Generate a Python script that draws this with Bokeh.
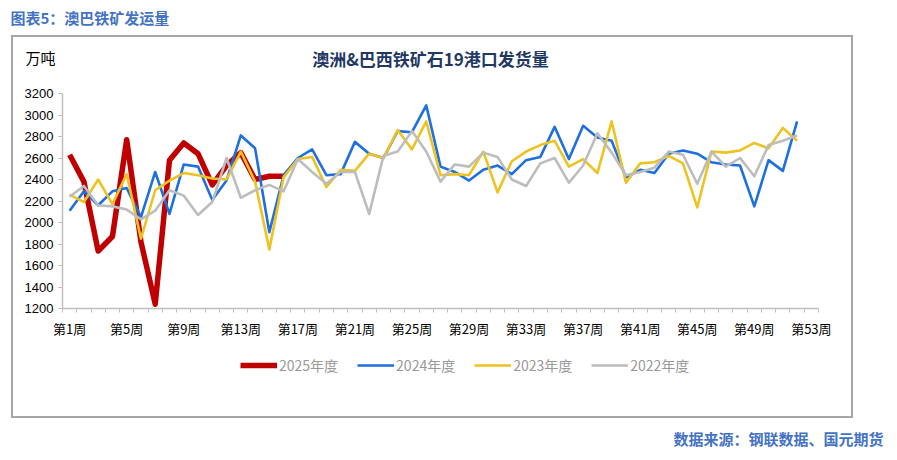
from bokeh.plotting import figure
from bokeh.models import (FixedTicker, Label, Legend, LegendItem, Range1d,
                          ColumnDataSource)
from bokeh.embed import file_html
from bokeh.resources import INLINE

# ---------------- data ----------------
weeks = list(range(1, 54))
tick_weeks = [1, 5, 9, 13, 17, 21, 25, 29, 33, 37, 41, 45, 49, 53]
tick_labels = {w: f"第{w}周" for w in tick_weeks}

y2025 = [2630, 2380, 1735, 1870, 2770, 1820, 1240, 2580, 2740, 2640, 2350, 2530,
         2650, 2400, 2430, 2430]
y2024 = [2110, 2290, 2160, 2290, 2320, 2050, 2470, 2080, 2540, 2520, 2210, 2390,
         2810, 2690, 1910, 2440, 2600, 2680, 2440, 2450, 2750, 2640, 2600, 2850,
         2840, 3090, 2520, 2470, 2390, 2490, 2530, 2450, 2580, 2610, 2890, 2590,
         2900, 2790, 2760, 2420, 2490, 2460, 2640, 2670, 2640, 2560, 2540, 2530,
         2150, 2580, 2480, 2940]
y2023 = [2260, 2190, 2400, 2170, 2450, 1850, 2300, 2390, 2460, 2440, 2410, 2400,
         2660, 2380, 1750, 2420, 2590, 2610, 2330, 2490, 2480, 2640, 2600, 2860,
         2680, 2940, 2440, 2450, 2440, 2660, 2280, 2570, 2660, 2720, 2760, 2520,
         2590, 2460, 2940, 2370, 2550, 2560, 2620, 2550, 2140, 2660, 2650, 2670,
         2740, 2690, 2880, 2760]
y2022 = [2240, 2340, 2160, 2150, 2120, 2030, 2110, 2300, 2250, 2070, 2190, 2600,
         2230, 2300, 2350, 2290, 2590, 2470, 2360, 2470, 2470, 2080, 2620, 2660,
         2850, 2660, 2380, 2540, 2520, 2650, 2610, 2400, 2340, 2550, 2600, 2370,
         2530, 2830, 2650, 2440, 2470, 2510, 2660, 2630, 2360, 2660, 2520, 2600,
         2430, 2720, 2760, 2810]

series_names = ["2025年度", "2024年度", "2023年度", "2022年度"]
series_values = [y2025, y2024, y2023, y2022]
y_ticks = list(range(1200, 3201, 200))
x_lo, x_hi = 0.5, 53.5
y_lo, y_hi = 1200, 3200

colors = ["#C00000", "#1E6FE0", "#EEC221", "#BDBDBD"]
widths = [5.5, 2.6, 2.6, 2.6]

CJK = "Noto Sans CJK SC"
BOX = "#A6A6A6"

# ---------------- geometry (pixels on the page) ----------------
W, H = 896, 459
PL, PR, PT, PB = 62, 818, 93, 308          # plot area inside the grey box
ppx = (PR - PL) / (x_hi - x_lo)
ppy = (PB - PT) / (y_hi - y_lo)
x_range = Range1d(x_lo - PL / ppx, x_hi + (W - PR) / ppx)
y_range = Range1d(y_lo - (H - PB) / ppy, y_hi + PT / ppy)

# grey frame round the chart (drawn by CSS behind the transparent canvas)
box_css = ", ".join([
    f"linear-gradient({BOX},{BOX}) 11px 35px / 842px 2px no-repeat",
    f"linear-gradient({BOX},{BOX}) 11px 416px / 842px 2px no-repeat",
    f"linear-gradient({BOX},{BOX}) 11px 35px / 2px 383px no-repeat",
    f"linear-gradient({BOX},{BOX}) 851px 35px / 2px 383px no-repeat",
    "#ffffff",
])

p = figure(width=W, height=H, output_backend="svg", toolbar_location=None,
           x_range=x_range, y_range=y_range, min_border=0,
           min_border_left=0, min_border_right=0, min_border_top=0, min_border_bottom=0,
           background_fill_alpha=0, border_fill_alpha=0,
           styles={"background": box_css})
p.outline_line_color = None
p.xgrid.visible = False
p.ygrid.visible = False

# x axis, pinned at y = 1200 and bounded to the plot area
xa = p.xaxis[0]
xa.fixed_location = y_lo
xa.bounds = (x_lo, x_hi)
xa.ticker = FixedTicker(ticks=tick_weeks, minor_ticks=[w + 0.5 for w in range(0, 54)])
xa.major_label_overrides = tick_labels
xa.major_tick_line_color = None
xa.major_tick_out = 0
xa.major_tick_in = 0
xa.minor_tick_in = 0
xa.minor_tick_out = 4
xa.minor_tick_line_color = "#BFBFBF"
xa.axis_line_color = "#BFBFBF"
xa.axis_line_width = 1.5
xa.major_label_text_font = CJK
xa.major_label_text_font_size = "13px"
xa.major_label_text_color = "#000000"
xa.major_label_standoff = 6

# y axis, pinned at x = 0.5
ya = p.yaxis[0]
ya.fixed_location = x_lo
ya.bounds = (y_lo, y_hi)
ya.ticker = FixedTicker(ticks=y_ticks)
ya.minor_tick_line_color = None
ya.major_tick_in = 0
ya.major_tick_out = 4
ya.major_tick_line_color = "#BFBFBF"
ya.axis_line_color = "#BFBFBF"
ya.axis_line_width = 1.5
ya.major_label_text_font = "Liberation Sans"
ya.major_label_text_font_size = "13px"
ya.major_label_text_color = "#000000"
ya.major_label_standoff = 5

# lines (2025 drawn first, as in the source)
renderers = []
for name, vals, c, w in zip(series_names, series_values, colors, widths):
    src = ColumnDataSource(dict(x=weeks[:len(vals)], y=vals))
    r = p.line("x", "y", source=src, line_color=c, line_width=w, line_join="round")
    renderers.append(r)

legend = Legend(items=[LegendItem(label=n, renderers=[r]) for n, r in zip(series_names, renderers)],
                orientation="horizontal", location=(240, H - 375))
legend.label_text_font = CJK
legend.label_text_font_size = "14px"
legend.label_text_color = "#999999"
legend.glyph_width = 37
legend.glyph_height = 20
legend.label_height = 20
legend.label_standoff = 2
legend.spacing = 19
legend.padding = 0
legend.margin = 0
legend.border_line_color = None
legend.background_fill_alpha = 0
p.add_layout(legend, "center")

# texts (canvas pixel positions)
p.add_layout(Label(x=10, y=17, x_units="canvas", y_units="canvas",
                   text="图表5：澳巴铁矿发运量", text_font=CJK, text_font_size="15px",
                   text_font_style="bold", text_color="#4472C4",
                   text_baseline="middle", text_align="left"))
p.add_layout(Label(x=430, y=58, x_units="canvas", y_units="canvas",
                   text="澳洲&巴西铁矿石19港口发货量", text_font=CJK, text_font_size="17px",
                   text_font_style="bold", text_color="#1F3864",
                   text_baseline="middle", text_align="center"))
p.add_layout(Label(x=883, y=438, x_units="canvas", y_units="canvas",
                   text="数据来源：钢联数据、国元期货", text_font=CJK, text_font_size="15px",
                   text_font_style="bold", text_color="#4472C4",
                   text_baseline="middle", text_align="right"))
p.add_layout(Label(x=25, y=57, x_units="canvas", y_units="canvas",
                   text="万吨", text_font=CJK, text_font_size="15px",
                   text_color="#000000", text_baseline="middle", text_align="left"))

open("out.html", "w").write(file_html(p, INLINE))
